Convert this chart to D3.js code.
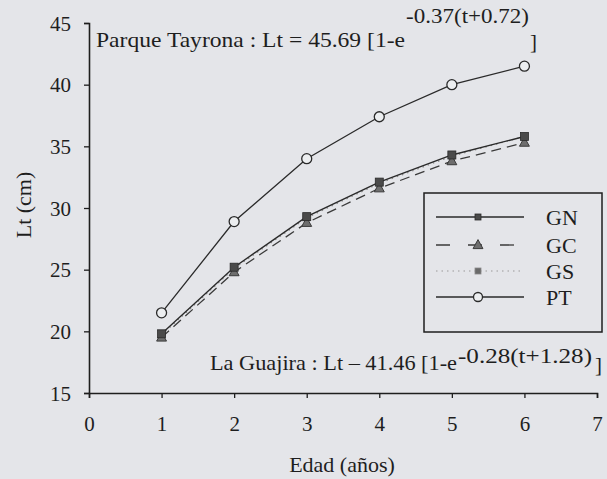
<!DOCTYPE html>
<html><head><meta charset="utf-8">
<script src="https://cdn.jsdelivr.net/npm/d3@7"></script>
<style>
html,body{margin:0;padding:0;background:#e4e5e9;}
svg{display:block;}
text{font-family:"Liberation Serif","Times New Roman",serif;fill:#1e1e1e;}
</style></head>
<body>
<svg id="c" width="607" height="479"></svg>
<script>
const ages = [1, 2, 3, 4, 5, 6];
const GN = [19.8, 25.2, 29.3, 32.1, 34.3, 35.8];
const GC = [19.5, 24.8, 28.8, 31.6, 33.8, 35.3];
const GS = [19.7, 25.1, 29.2, 32.0, 34.2, 35.8];
const PT = [21.5, 28.9, 34.0, 37.4, 40.0, 41.5];
const xTicks = [0, 1, 2, 3, 4, 5, 6, 7];
const yTicks = [15, 20, 25, 30, 35, 40, 45];
const seriesNames = ["GN", "GC", "GS", "PT"];

const svg = d3.select("#c");
const x = d3.scaleLinear().domain([0, 7]).range([89, 597]);
const y = d3.scaleLinear().domain([15, 45]).range([393, 23]);
const ink = "#1e1e1e";
const FONT = "Liberation Serif";

// axes
const xAxis = svg.append("g").attr("transform", `translate(0,${y(15)})`)
  .call(d3.axisBottom(x).tickValues(xTicks).tickSize(5).tickPadding(18).tickFormat(d3.format("d")));
const yAxis = svg.append("g").attr("transform", `translate(${x(0)},0)`)
  .call(d3.axisLeft(y).tickValues(yTicks).tickSize(5).tickPadding(13).tickFormat(d3.format("d")));
[xAxis, yAxis].forEach(a => {
  a.select(".domain").attr("stroke", ink).attr("stroke-width", 1.6);
  a.selectAll(".tick line").attr("stroke", ink).attr("stroke-width", 1.3);
  a.selectAll("text").attr("font-size", 21).attr("font-family", FONT).attr("fill", ink);
});
yAxis.selectAll("text").attr("dy", "0.34em");

// axis titles
svg.append("text").attr("x", 342).attr("y", 472).attr("text-anchor", "middle")
  .attr("font-size", 22).text("Edad (años)");
svg.append("text").attr("transform", "translate(31,205) rotate(-90)").attr("text-anchor", "middle")
  .attr("font-size", 22).text("Lt (cm)");

// series
const series = [
  {name: "GS", vals: GS, color: "#8a8a8a", dash: "1.5,4", width: 1.2, marker: "sq", msize: 6, fill: "#6a6a6a"},
  {name: "GC", vals: GC, color: "#3a3a3a", dash: "10,6", width: 1.3, marker: "tri", msize: 9, fill: "#6e6e6e"},
  {name: "GN", vals: GN, color: "#2a2a2a", dash: null, width: 1.4, marker: "sq", msize: 8, fill: "#4a4a4a"},
  {name: "PT", vals: PT, color: "#2a2a2a", dash: null, width: 1.3, marker: "circ", msize: 5, fill: "#eceef0"}
];
const line = d3.line().x((d, i) => x(ages[i])).y(d => y(d));

function drawMarker(g, type, cx, cy, s, fill, stroke) {
  if (type === "sq") {
    g.append("rect").attr("x", cx - s / 2).attr("y", cy - s / 2).attr("width", s).attr("height", s)
      .attr("fill", fill).attr("stroke", stroke).attr("stroke-width", 0.8);
  } else if (type === "tri") {
    g.append("path").attr("d", `M${cx},${cy - s * 0.6}L${cx + s * 0.55},${cy + s * 0.4}L${cx - s * 0.55},${cy + s * 0.4}Z`)
      .attr("fill", fill).attr("stroke", stroke).attr("stroke-width", 1);
  } else {
    g.append("circle").attr("cx", cx).attr("cy", cy).attr("r", s)
      .attr("fill", fill).attr("stroke", stroke).attr("stroke-width", 1.3);
  }
}

series.forEach(s => {
  const g = svg.append("g");
  g.append("path").datum(s.vals).attr("d", line).attr("fill", "none")
    .attr("stroke", s.color).attr("stroke-width", s.width)
    .attr("stroke-dasharray", s.dash);
  s.vals.forEach((v, i) => drawMarker(g, s.marker, x(ages[i]), y(v), s.msize, s.fill, s.color));
});

// legend
const lg = svg.append("g");
lg.append("rect").attr("x", 424).attr("y", 193).attr("width", 178).attr("height", 139)
  .attr("fill", "#e4e5e9").attr("stroke", ink).attr("stroke-width", 1.5);
const legRows = {GN: 217, GC: 245, GS: 271, PT: 297};
const legStyle = {
  GN: {dash: null, color: "#2a2a2a"},
  GC: {dash: "14,18", color: "#3a3a3a"},
  GS: {dash: "1.5,4", color: "#9a9a9a"},
  PT: {dash: null, color: "#2a2a2a"}
};
seriesNames.forEach(n => {
  const s = series.find(d => d.name === n);
  const ly = legRows[n];
  lg.append("line").attr("x1", 436).attr("x2", 524).attr("y1", ly).attr("y2", ly)
    .attr("stroke", legStyle[n].color).attr("stroke-width", s.width).attr("stroke-dasharray", legStyle[n].dash);
  drawMarker(lg, s.marker, 478, ly, s.marker === "circ" ? 4.5 : (s.marker === "tri" ? 9 : 6), s.fill, s.color);
  lg.append("text").attr("x", 546).attr("y", ly).attr("dy", "0.35em").attr("font-size", 22).text(n);
});

// equations (main part, superscript, closing bracket)
function equation(parts) {
  const g = svg.append("g");
  parts.forEach(p => {
    g.append("text").attr("x", p.x).attr("y", p.y).attr("font-size", p.size)
      .attr("textLength", p.len).attr("lengthAdjust", "spacingAndGlyphs").text(p.t);
  });
}
equation([
  {t: "Parque Tayrona : Lt = 45.69 [1-e", x: 96, y: 47, size: 22, len: 309},
  {t: "-0.37(t+0.72)", x: 406, y: 23, size: 21, len: 123},
  {t: "]", x: 530, y: 49, size: 22, len: 7}
]);
equation([
  {t: "La Guajira : Lt – 41.46 [1-e", x: 210, y: 370, size: 22, len: 247},
  {t: "-0.28(t+1.28)", x: 458, y: 363, size: 21, len: 134},
  {t: "]", x: 595, y: 372, size: 22, len: 7}
]);
</script>
</body></html>
